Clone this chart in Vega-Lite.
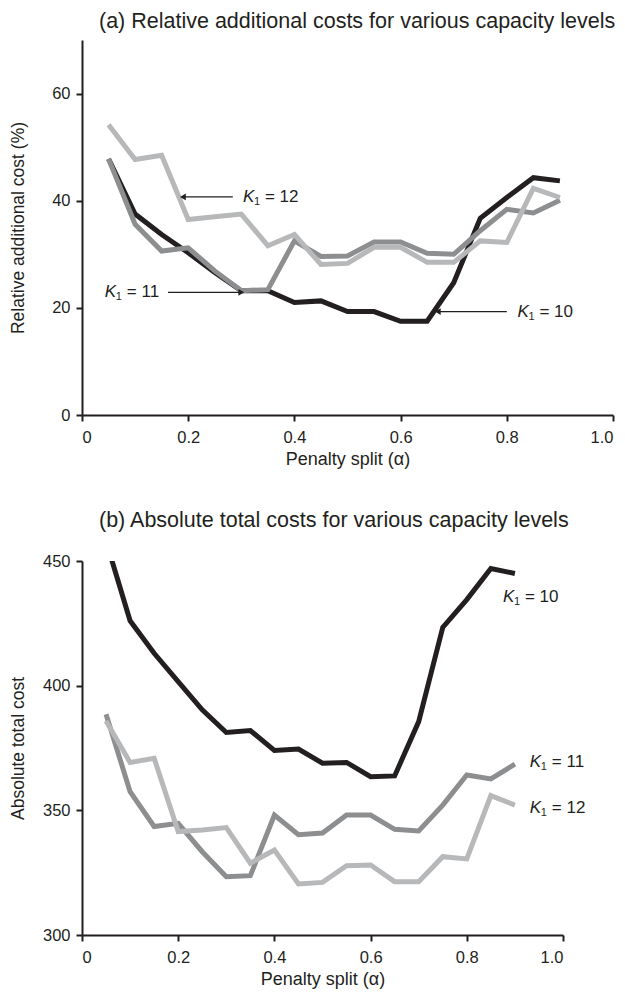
{
  "$schema": "https://vega.github.io/schema/vega-lite/v6.json",
  "padding": {"left": 9, "top": 10, "right": 5, "bottom": 0},
  "spacing": 40,
  "datasets": {
    "rows": [
      {"alpha": 0.05, "K": "10", "rel": 47.8, "abs": 458.0},
      {"alpha": 0.10, "K": "10", "rel": 37.5, "abs": 426.0},
      {"alpha": 0.15, "K": "10", "rel": 33.7, "abs": 413.0},
      {"alpha": 0.20, "K": "10", "rel": 30.3, "abs": 401.6},
      {"alpha": 0.25, "K": "10", "rel": 26.6, "abs": 390.3},
      {"alpha": 0.30, "K": "10", "rel": 23.2, "abs": 381.2},
      {"alpha": 0.35, "K": "10", "rel": 23.2, "abs": 382.0},
      {"alpha": 0.40, "K": "10", "rel": 21.0, "abs": 374.0},
      {"alpha": 0.45, "K": "10", "rel": 21.3, "abs": 374.6},
      {"alpha": 0.50, "K": "10", "rel": 19.3, "abs": 368.9},
      {"alpha": 0.55, "K": "10", "rel": 19.3, "abs": 369.2},
      {"alpha": 0.60, "K": "10", "rel": 17.5, "abs": 363.5},
      {"alpha": 0.65, "K": "10", "rel": 17.5, "abs": 363.8},
      {"alpha": 0.70, "K": "10", "rel": 24.7, "abs": 385.6},
      {"alpha": 0.75, "K": "10", "rel": 36.7, "abs": 423.4},
      {"alpha": 0.80, "K": "10", "rel": 40.6, "abs": 434.5},
      {"alpha": 0.85, "K": "10", "rel": 44.3, "abs": 447.0},
      {"alpha": 0.90, "K": "10", "rel": 43.7, "abs": 445.0},
      {"alpha": 0.05, "K": "11", "rel": 47.8, "abs": 388.5},
      {"alpha": 0.10, "K": "11", "rel": 35.6, "abs": 357.5},
      {"alpha": 0.15, "K": "11", "rel": 30.6, "abs": 343.5},
      {"alpha": 0.20, "K": "11", "rel": 31.2, "abs": 344.8},
      {"alpha": 0.25, "K": "11", "rel": 26.9, "abs": 333.4},
      {"alpha": 0.30, "K": "11", "rel": 23.2, "abs": 323.4},
      {"alpha": 0.35, "K": "11", "rel": 23.4, "abs": 323.8},
      {"alpha": 0.40, "K": "11", "rel": 32.5, "abs": 348.1},
      {"alpha": 0.45, "K": "11", "rel": 29.6, "abs": 340.2},
      {"alpha": 0.50, "K": "11", "rel": 29.7, "abs": 340.9},
      {"alpha": 0.55, "K": "11", "rel": 32.3, "abs": 348.1},
      {"alpha": 0.60, "K": "11", "rel": 32.3, "abs": 348.1},
      {"alpha": 0.65, "K": "11", "rel": 30.2, "abs": 342.4},
      {"alpha": 0.70, "K": "11", "rel": 30.0, "abs": 341.7},
      {"alpha": 0.75, "K": "11", "rel": 34.4, "abs": 352.1},
      {"alpha": 0.80, "K": "11", "rel": 38.4, "abs": 364.2},
      {"alpha": 0.85, "K": "11", "rel": 37.7, "abs": 362.6},
      {"alpha": 0.90, "K": "11", "rel": 40.1, "abs": 368.5},
      {"alpha": 0.05, "K": "12", "rel": 54.2, "abs": 385.8},
      {"alpha": 0.10, "K": "12", "rel": 47.7, "abs": 369.2},
      {"alpha": 0.15, "K": "12", "rel": 48.5, "abs": 370.9},
      {"alpha": 0.20, "K": "12", "rel": 36.5, "abs": 341.5},
      {"alpha": 0.25, "K": "12", "rel": 37.0, "abs": 342.1},
      {"alpha": 0.30, "K": "12", "rel": 37.5, "abs": 343.1},
      {"alpha": 0.35, "K": "12", "rel": 31.6, "abs": 328.8},
      {"alpha": 0.40, "K": "12", "rel": 33.7, "abs": 334.1},
      {"alpha": 0.45, "K": "12", "rel": 28.1, "abs": 320.5},
      {"alpha": 0.50, "K": "12", "rel": 28.3, "abs": 321.1},
      {"alpha": 0.55, "K": "12", "rel": 31.3, "abs": 327.8},
      {"alpha": 0.60, "K": "12", "rel": 31.3, "abs": 328.1},
      {"alpha": 0.65, "K": "12", "rel": 28.5, "abs": 321.4},
      {"alpha": 0.70, "K": "12", "rel": 28.5, "abs": 321.4},
      {"alpha": 0.75, "K": "12", "rel": 32.5, "abs": 331.4},
      {"alpha": 0.80, "K": "12", "rel": 32.2, "abs": 330.5},
      {"alpha": 0.85, "K": "12", "rel": 42.3, "abs": 355.9},
      {"alpha": 0.90, "K": "12", "rel": 40.6, "abs": 352.1}
    ],
    "annTop": [
      {"tx": 0.303, "ty": 40.7, "lab": "= 12", "a1": 0.284, "a2": 0.19, "dir": "left"},
      {"tx": 0.043, "ty": 22.9, "lab": "= 11", "a1": 0.162, "a2": 0.30, "dir": "right"},
      {"tx": 0.82, "ty": 19.3, "lab": "= 10", "a1": 0.80, "a2": 0.67, "dir": "left"}
    ],
    "annBot": [
      {"tx": 0.875, "ty": 435.5, "lab": "= 10"},
      {"tx": 0.931, "ty": 369.3, "lab": "= 11"},
      {"tx": 0.931, "ty": 350.8, "lab": "= 12"}
    ]
  },
  "config": {
    "view": {"stroke": null},
    "font": "Liberation Sans",
    "axis": {
      "domainColor": "#231f20", "domainWidth": 2,
      "tickColor": "#231f20", "tickWidth": 2, "tickSize": 6,
      "labelFontSize": 16.5, "labelColor": "#231f20", "labelPadding": 6,
      "titleFontSize": 18, "titleFontWeight": "normal", "titleColor": "#231f20", "titlePadding": 8,
      "grid": false
    },
    "axisX": {"labelPadding": 8, "titlePadding": 5},
    "axisY": {"titleFontSize": 17.5},
    "title": {"fontSize": 21.5, "fontWeight": "normal", "color": "#231f20", "anchor": "start", "frame": "group", "dx": 17}
  },
  "vconcat": [
    {
      "title": {"text": "(a) Relative additional costs for various capacity levels", "offset": 8},
      "width": 531,
      "height": 375,
      "layer": [
        {
          "data": {"name": "rows"},
          "mark": {"type": "line", "strokeWidth": 5, "clip": true},
          "encoding": {
            "x": {"field": "alpha", "type": "quantitative", "scale": {"domain": [0, 1]},
                  "axis": {"values": [0, 0.2, 0.4, 0.6, 0.8, 1], "labelExpr": "datum.value == 0 ? '0' : format(datum.value, '.1f')"},
                  "title": "Penalty split (α)"},
            "y": {"field": "rel", "type": "quantitative", "scale": {"domain": [0, 70]},
                  "axis": {"values": [0, 20, 40, 60], "titlePadding": 23.8}, "title": "Relative additional cost (%)"},
            "color": {"field": "K", "type": "nominal",
                      "scale": {"domain": ["10", "11", "12"], "range": ["#231f20", "#8d8e90", "#b7b8ba"]}, "legend": null}
          }
        },
        {
          "data": {"name": "annTop"},
          "mark": {"type": "rule", "color": "#231f20", "strokeWidth": 1.2},
          "encoding": {
            "x": {"field": "a1", "type": "quantitative", "scale": {"domain": [0, 1]}},
            "x2": {"field": "a2"},
            "y": {"field": "ty", "type": "quantitative", "scale": {"domain": [0, 70]}}
          }
        },
        {
          "data": {"name": "annTop"},
          "mark": {"type": "point", "filled": true, "color": "#231f20", "size": 45, "opacity": 1},
          "encoding": {
            "x": {"field": "a2", "type": "quantitative", "scale": {"domain": [0, 1]}},
            "y": {"field": "ty", "type": "quantitative", "scale": {"domain": [0, 70]}},
            "shape": {"field": "dir", "type": "nominal", "scale": {"domain": ["left", "right"], "range": ["triangle-left", "triangle-right"]}, "legend": null}
          }
        },
        {
          "data": {"name": "annTop"},
          "mark": {"type": "text", "align": "left", "baseline": "middle", "fontStyle": "italic", "fontSize": 17, "color": "#231f20"},
          "encoding": {
            "x": {"field": "tx", "type": "quantitative", "scale": {"domain": [0, 1]}},
            "y": {"field": "ty", "type": "quantitative", "scale": {"domain": [0, 70]}},
            "text": {"value": "K"}
          }
        },
        {
          "data": {"name": "annTop"},
          "mark": {"type": "text", "align": "left", "baseline": "middle", "fontSize": 11, "dx": 11, "dy": 5, "color": "#231f20"},
          "encoding": {
            "x": {"field": "tx", "type": "quantitative", "scale": {"domain": [0, 1]}},
            "y": {"field": "ty", "type": "quantitative", "scale": {"domain": [0, 70]}},
            "text": {"value": "1"}
          }
        },
        {
          "data": {"name": "annTop"},
          "mark": {"type": "text", "align": "left", "baseline": "middle", "fontSize": 17, "dx": 22, "color": "#231f20"},
          "encoding": {
            "x": {"field": "tx", "type": "quantitative", "scale": {"domain": [0, 1]}},
            "y": {"field": "ty", "type": "quantitative", "scale": {"domain": [0, 70]}},
            "text": {"field": "lab"}
          }
        }
      ]
    },
    {
      "title": {"text": "(b) Absolute total costs for various capacity levels", "offset": 22},
      "width": 481,
      "height": 374,
      "layer": [
        {
          "data": {"name": "rows"},
          "mark": {"type": "line", "strokeWidth": 5, "clip": true},
          "encoding": {
            "x": {"field": "alpha", "type": "quantitative", "scale": {"domain": [0, 1]},
                  "axis": {"values": [0, 0.2, 0.4, 0.6, 0.8, 1], "labelExpr": "datum.value == 0 ? '0' : format(datum.value, '.1f')"},
                  "title": "Penalty split (α)"},
            "y": {"field": "abs", "type": "quantitative", "scale": {"domain": [300, 450]},
                  "axis": {"values": [300, 350, 400, 450], "titlePadding": 14.7}, "title": "Absolute total cost"},
            "color": {"field": "K", "type": "nominal",
                      "scale": {"domain": ["10", "11", "12"], "range": ["#231f20", "#8d8e90", "#b7b8ba"]}, "legend": null}
          }
        },
        {
          "data": {"name": "annBot"},
          "mark": {"type": "text", "align": "left", "baseline": "middle", "fontStyle": "italic", "fontSize": 17, "color": "#231f20"},
          "encoding": {
            "x": {"field": "tx", "type": "quantitative", "scale": {"domain": [0, 1]}},
            "y": {"field": "ty", "type": "quantitative", "scale": {"domain": [300, 450]}},
            "text": {"value": "K"}
          }
        },
        {
          "data": {"name": "annBot"},
          "mark": {"type": "text", "align": "left", "baseline": "middle", "fontSize": 11, "dx": 11, "dy": 5, "color": "#231f20"},
          "encoding": {
            "x": {"field": "tx", "type": "quantitative", "scale": {"domain": [0, 1]}},
            "y": {"field": "ty", "type": "quantitative", "scale": {"domain": [300, 450]}},
            "text": {"value": "1"}
          }
        },
        {
          "data": {"name": "annBot"},
          "mark": {"type": "text", "align": "left", "baseline": "middle", "fontSize": 17, "dx": 22, "color": "#231f20"},
          "encoding": {
            "x": {"field": "tx", "type": "quantitative", "scale": {"domain": [0, 1]}},
            "y": {"field": "ty", "type": "quantitative", "scale": {"domain": [300, 450]}},
            "text": {"field": "lab"}
          }
        }
      ]
    }
  ]
}
